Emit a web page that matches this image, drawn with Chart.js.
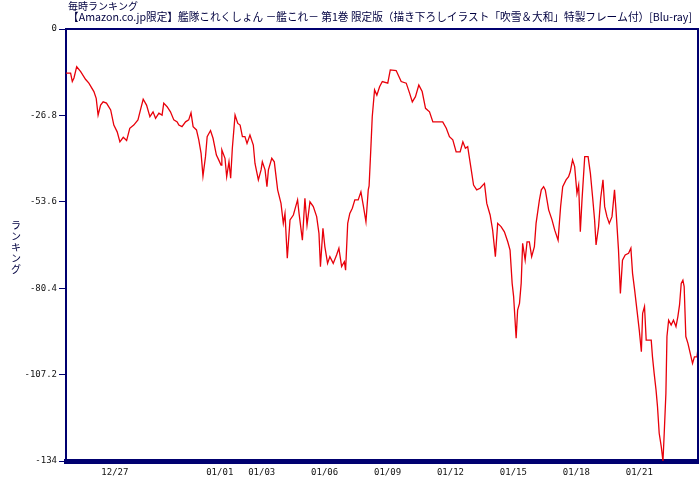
<!DOCTYPE html>
<html lang="ja">
<head>
<meta charset="utf-8">
<title>毎時ランキング</title>
<script src="https://cdn.jsdelivr.net/npm/chart.js@4.4.1/dist/chart.umd.min.js"></script>
<style>
  html, body { margin: 0; padding: 0; background: #fff; }
  #rankChart { display: block; }
</style>
</head>
<body>
<canvas id="rankChart" width="700" height="480"></canvas>
<script>
// Texts shown on the chart
const chartTitle = '毎時ランキング';
const productName = '【Amazon.co.jp限定】艦隊これくしょん －艦これ－ 第1巻 限定版（描き下ろしイラスト「吹雪＆大和」特製フレーム付）[Blu-ray]';
const yAxisTitle = 'ランキング';

// X axis: days counted from 12/27 00:00
const xTickDays = [0, 5, 7, 10, 13, 16, 19, 22, 25];
const xTickLabels = ['12/27', '01/01', '01/03', '01/06', '01/09', '01/12', '01/15', '01/18', '01/21'];
const xMinDay = -2.33;
const xMaxDay = 27.8;

// Y axis ticks
const yTickValues = [0, -26.8, -53.6, -80.4, -107.2, -134];
const yTickLabels = ['0', '-26.8', '-53.6', '-80.4', '-107.2', '-134'];

// Ranking samples (day offset / value)
const sampleDays = [
  -2.33, -2.11, -2.03, -1.95, -1.82, -1.63, -1.40, -1.24, -1.00, -0.89,
  -0.80, -0.68, -0.56, -0.40, -0.20, -0.05, 0.11, 0.24, 0.40, 0.56,
  0.71, 0.90, 1.10, 1.22, 1.35, 1.51, 1.67, 1.82, 1.94, 2.10,
  2.25, 2.33, 2.49, 2.65, 2.81, 2.97, 3.05, 3.20, 3.37, 3.52,
  3.63, 3.73, 3.89, 4.00, 4.11, 4.20, 4.32, 4.40, 4.56, 4.68,
  4.84, 4.95, 5.06, 5.10, 5.25, 5.33, 5.44, 5.52, 5.60, 5.73,
  5.86, 5.97, 6.08, 6.20, 6.30, 6.44, 6.60, 6.68, 6.84, 6.97,
  7.03, 7.16, 7.25, 7.32, 7.48, 7.60, 7.76, 7.92, 8.03, 8.11,
  8.22, 8.35, 8.51, 8.62, 8.71, 8.78, 8.94, 9.06, 9.16, 9.30,
  9.46, 9.62, 9.73, 9.80, 9.92, 10.01, 10.14, 10.25, 10.41, 10.57,
  10.68, 10.81, 10.94, 11.00, 11.10, 11.20, 11.32, 11.44, 11.60, 11.73,
  11.84, 11.97, 12.08, 12.12, 12.20, 12.27, 12.38, 12.49, 12.62, 12.75,
  13.01, 13.13, 13.41, 13.65, 13.89, 14.05, 14.18, 14.33, 14.49, 14.65,
  14.81, 15.00, 15.16, 15.63, 15.80, 15.95, 16.11, 16.27, 16.46, 16.59,
  16.71, 16.82, 16.99, 17.10, 17.25, 17.41, 17.62, 17.73, 17.89, 18.01,
  18.14, 18.25, 18.41, 18.57, 18.73, 18.84, 18.94, 19.01, 19.13, 19.20,
  19.29, 19.37, 19.44, 19.56, 19.65, 19.76, 19.87, 20.00, 20.08, 20.24,
  20.33, 20.44, 20.52, 20.68, 20.84, 20.97, 21.13, 21.19, 21.25, 21.35,
  21.51, 21.63, 21.71, 21.82, 21.92, 22.03, 22.11, 22.19, 22.27, 22.40,
  22.56, 22.67, 22.78, 22.87, 22.94, 23.06, 23.16, 23.27, 23.35, 23.46,
  23.57, 23.70, 23.82, 23.89, 24.01, 24.10, 24.20, 24.33, 24.49, 24.60,
  24.68, 24.78, 24.89, 25.00, 25.10, 25.16, 25.25, 25.33, 25.57, 25.63,
  25.71, 25.80, 25.87, 25.95, 26.05, 26.13, 26.19, 26.27, 26.32, 26.40,
  26.52, 26.63, 26.75, 26.84, 26.92, 27.00, 27.08, 27.14, 27.22, 27.32,
  27.43, 27.54, 27.63, 27.75, 27.80
];
const rankValues = [
  -13.7, -13.7, -16.3, -15.2, -11.7, -13.2, -15.6, -16.8, -19.4, -21.5,
  -26.7, -23.6, -22.6, -23.0, -25.1, -29.8, -31.9, -35.0, -33.6, -34.6,
  -30.8, -29.8, -28.2, -25.1, -21.8, -23.6, -27.2, -25.7, -27.7, -26.1,
  -26.7, -23.0, -24.1, -25.7, -28.2, -28.8, -29.8, -30.3, -28.8, -28.2,
  -26.0, -30.3, -31.3, -34.4, -38.6, -45.6, -39.6, -33.4, -31.5, -33.9,
  -39.1, -40.6, -42.2, -37.5, -40.1, -45.8, -41.2, -46.3, -37.0, -26.7,
  -29.3, -29.8, -33.4, -33.4, -35.5, -32.9, -36.0, -41.7, -46.8, -43.7,
  -41.2, -43.7, -48.9, -43.7, -40.1, -41.2, -49.9, -54.1, -60.3, -57.2,
  -71.1, -59.2, -57.7, -55.1, -53.0, -57.2, -65.5, -52.5, -60.8, -53.6,
  -55.1, -58.2, -63.4, -73.7, -61.8, -67.5, -72.7, -70.6, -72.7, -70.1,
  -68.0, -73.7, -72.2, -74.8, -60.3, -57.2, -55.6, -53.0, -53.0, -50.5,
  -54.6, -59.8, -49.9, -48.7, -37.5, -27.2, -18.9, -20.5, -17.9, -16.3,
  -16.8, -12.7, -12.9, -16.3, -16.8, -19.9, -22.6, -21.0, -17.4, -19.4,
  -24.6, -25.7, -28.8, -28.8, -30.8, -33.4, -34.4, -38.1, -38.1, -35.0,
  -37.0, -36.5, -43.7, -48.4, -49.9, -49.4, -47.9, -54.1, -57.7, -62.4,
  -70.6, -60.3, -61.3, -62.9, -66.0, -68.6, -78.9, -83.0, -95.9, -87.2,
  -85.1, -78.9, -66.5, -71.7, -66.0, -66.0, -70.6, -67.5, -60.3, -53.0,
  -49.9, -48.9, -49.9, -56.1, -59.2, -62.4, -65.5, -60.3, -55.1, -48.9,
  -46.8, -45.8, -44.3, -40.6, -42.7, -51.0, -48.4, -62.9, -53.0, -39.6,
  -39.6, -44.8, -52.5, -59.2, -67.0, -61.3, -52.5, -46.8, -55.1, -58.2,
  -60.3, -58.2, -49.9, -56.1, -68.6, -82.0, -71.7, -70.1, -69.6, -68.0,
  -75.8, -81.0, -87.2, -93.4, -100.1, -88.2, -86.1, -96.5, -96.5, -101.7,
  -106.8, -112.0, -117.2, -125.4, -129.6, -134.0, -125.4, -113.0, -95.4, -90.3,
  -91.8, -90.3, -92.3, -89.2, -85.6, -78.9, -77.9, -79.9, -95.4, -97.5,
  -100.6, -103.7, -101.7, -101.7, -99.0
];

const NAVY = '#000070';
const TICK_FONT = { family: '"DejaVu Sans Mono", monospace', size: 9 };

document.addEventListener('DOMContentLoaded', () => {
  const canvas = document.getElementById('rankChart');
  if (!canvas) {
    console.error('rank chart: canvas not found');
    return;
  }

  // Plugin: thin frame on the top and right of the plot
  const framePlugin = {
    id: 'frame',
    afterDatasetsDraw(chart) {
      const { ctx, chartArea: a } = chart;
      ctx.save();
      ctx.strokeStyle = NAVY;
      ctx.lineWidth = 2;
      ctx.beginPath();
      ctx.moveTo(a.left, a.top);
      ctx.lineTo(a.right, a.top);
      ctx.lineTo(a.right, a.bottom);
      ctx.stroke();
      ctx.restore();
    }
  };

  // Plugin: titles on top and the upright vertical axis title
  const textPlugin = {
    id: 'texts',
    afterDraw(chart) {
      const ctx = chart.ctx;
      ctx.save();
      ctx.fillStyle = '#000040';
      ctx.textBaseline = 'top';
      ctx.textAlign = 'left';
      ctx.font = '10px "Noto Sans CJK JP"';
      ctx.fillText(chartTitle, 68, 1);
      ctx.font = '11px "Noto Sans CJK JP"';
      ctx.fillText(productName, 68, 11, 624);

      ctx.font = '10px "Noto Sans CJK JP"';
      ctx.textAlign = 'center';
      ctx.textBaseline = 'middle';
      [...yAxisTitle].forEach((ch, i) => {
        ctx.fillText(ch, 16, 225 + i * 11);
      });
      ctx.restore();
    }
  };

  const points = sampleDays.map((d, i) => ({ x: d, y: rankValues[i] }));

  try {
    new Chart(canvas, {
      type: 'line',
      data: {
        datasets: [{
          data: points,
          borderColor: '#e8000a',
          borderWidth: 1.3,
          pointRadius: 0,
          tension: 0,
          fill: false
        }]
      },
      options: {
        responsive: false,
        animation: false,
        layout: { padding: { top: 29, right: 2, bottom: 0, left: 0 } },
        plugins: {
          legend: { display: false },
          tooltip: { enabled: false }
        },
        scales: {
          x: {
            type: 'linear',
            min: xMinDay,
            max: xMaxDay,
            grid: { drawOnChartArea: false, drawTicks: false },
            border: { color: NAVY, width: 5 },
            ticks: {
              autoSkip: false,
              maxRotation: 0,
              padding: 6,
              color: '#111',
              font: TICK_FONT,
              callback: (value, index) => xTickLabels[index]
            },
            afterBuildTicks: (scale) => {
              scale.ticks = xTickDays.map(v => ({ value: v }));
            },
            afterFit: (scale) => { scale.height = 19; }
          },
          y: {
            min: -134,
            max: 0,
            grid: { drawOnChartArea: false, drawTicks: true, tickLength: 7, color: NAVY, lineWidth: 1 },
            border: { color: NAVY, width: 2 },
            ticks: {
              autoSkip: false,
              padding: 2,
              color: '#111',
              font: TICK_FONT,
              callback: (value, index) => yTickLabels[index]
            },
            afterBuildTicks: (scale) => {
              scale.ticks = yTickValues.map(v => ({ value: v }));
            },
            afterFit: (scale) => { scale.width = 66; }
          }
        }
      },
      plugins: [framePlugin, textPlugin]
    });
  } catch (error) {
    console.error('rank chart: error rendering chart:', error);
  }
});
</script>
</body>
</html>
